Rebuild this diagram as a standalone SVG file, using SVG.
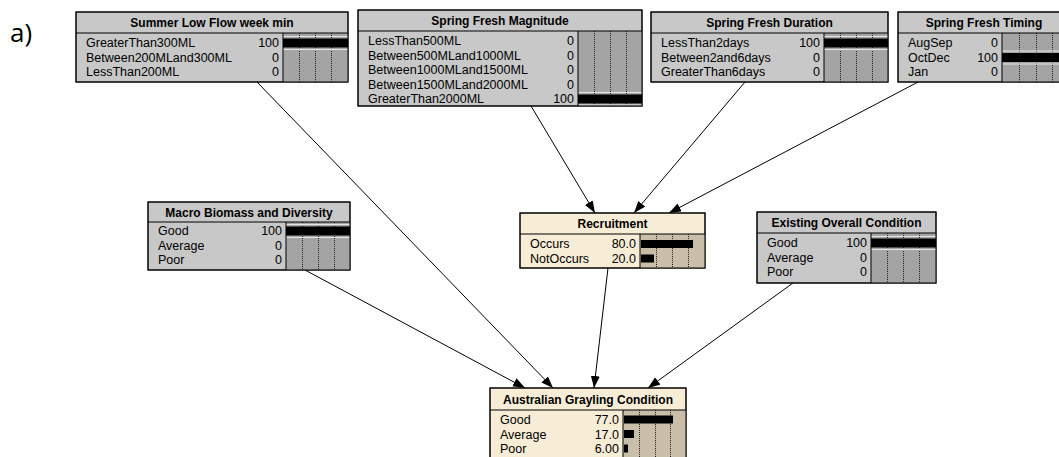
<svg xmlns="http://www.w3.org/2000/svg" width="1059" height="457" viewBox="0 0 1059 457">
  <style>
    .box { stroke: #000; stroke-width: 1; }
    .grey { fill: #c8c8c8; }
    .cream { fill: #f7edd6; }
    .bararea-grey { fill: #a4a4a4; }
    .bararea-cream { fill: #c9bfa9; }
    .sep { stroke: #000; stroke-width: 1; }
    .grid { stroke: #222; stroke-width: 1; stroke-dasharray: 1 1; }
    .hl { stroke: #e6e6e6; stroke-width: 1; }
    .bar { fill: #000; }
    .title { font-family: "Liberation Sans", Arial, sans-serif; font-size: 12px; font-weight: bold; text-anchor: middle; fill: #000; }
    .lab { font-family: "Liberation Sans", Arial, sans-serif; font-size: 12.5px; fill: #000; }
    .val { font-family: "Liberation Sans", Arial, sans-serif; font-size: 12.5px; fill: #000; text-anchor: end; }
    .link { stroke: #000; stroke-width: 1; fill: none; marker-end: url(#arrow); }
  </style>
  <defs>
    <marker id="arrow" markerUnits="userSpaceOnUse" markerWidth="13" markerHeight="10" refX="12" refY="4.5" orient="auto">
      <path d="M0,0 L12,4.5 L0,9 Z" fill="#000"/>
    </marker>
  </defs>

  <rect width="1059" height="457" fill="#fff"/>

  <text x="10" y="42" font-family="Open Sans, Liberation Sans, sans-serif" font-size="26" fill="#000">a)</text>

  <!-- links between nodes -->
  <g id="links">
    <line class="link" x1="257" y1="82" x2="553" y2="388"/>
    <line class="link" x1="531" y1="106" x2="595" y2="213"/>
    <line class="link" x1="745" y1="82" x2="634" y2="213"/>
    <line class="link" x1="918" y1="82" x2="669" y2="213"/>
    <line class="link" x1="305" y1="270" x2="525" y2="388"/>
    <line class="link" x1="608" y1="268" x2="594" y2="388"/>
    <line class="link" x1="793" y1="283" x2="648" y2="388"/>
  </g>

  <!-- Summer Low Flow week min -->
  <g id="summer-low-flow">
    <rect class="box grey" x="76" y="12" width="272" height="70"/>
    <rect class="bararea-grey" x="283" y="33" width="65" height="49"/>
    <line class="grid" x1="299.5" y1="33" x2="299.5" y2="82"/>
    <line class="grid" x1="315.5" y1="33" x2="315.5" y2="82"/>
    <line class="grid" x1="331.5" y1="33" x2="331.5" y2="82"/>
    <line class="hl" x1="283" y1="36.5" x2="348" y2="36.5"/>
    <line class="hl" x1="283" y1="49.5" x2="348" y2="49.5"/>
    <rect class="bar" x="283" y="38.5" width="65" height="9"/>
    <line class="sep" x1="283" y1="33" x2="283" y2="82"/>
    <line class="sep" x1="76" y1="33" x2="348" y2="33"/>
    <rect class="box" fill="none" x="76" y="12" width="272" height="70"/>
    <text class="title" x="212" y="27">Summer Low Flow week min</text>
    <text class="lab" x="86" y="47">GreaterThan300ML</text>
    <text class="val" x="279" y="47">100</text>
    <text class="lab" x="86" y="61.5">Between200MLand300ML</text>
    <text class="val" x="279" y="61.5">0</text>
    <text class="lab" x="86" y="76">LessThan200ML</text>
    <text class="val" x="279" y="76">0</text>
  </g>

  <!-- Spring Fresh Magnitude -->
  <g id="spring-fresh-magnitude">
    <rect class="box grey" x="358" y="10" width="284" height="96"/>
    <rect class="bararea-grey" x="578" y="31" width="64" height="75"/>
    <line class="grid" x1="594.5" y1="31" x2="594.5" y2="106"/>
    <line class="grid" x1="610.5" y1="31" x2="610.5" y2="106"/>
    <line class="grid" x1="626.5" y1="31" x2="626.5" y2="106"/>
    <line class="hl" x1="578" y1="92.5" x2="642" y2="92.5"/>
    <line class="hl" x1="578" y1="105" x2="642" y2="105"/>
    <rect class="bar" x="578" y="94.5" width="64" height="9"/>
    <line class="sep" x1="578" y1="31" x2="578" y2="106"/>
    <line class="sep" x1="358" y1="31" x2="642" y2="31"/>
    <rect class="box" fill="none" x="358" y="10" width="284" height="96"/>
    <text class="title" x="500" y="25">Spring Fresh Magnitude</text>
    <text class="lab" x="368" y="45">LessThan500ML</text>
    <text class="val" x="574" y="45">0</text>
    <text class="lab" x="368" y="59.5">Between500MLand1000ML</text>
    <text class="val" x="574" y="59.5">0</text>
    <text class="lab" x="368" y="74">Between1000MLand1500ML</text>
    <text class="val" x="574" y="74">0</text>
    <text class="lab" x="368" y="88.5">Between1500MLand2000ML</text>
    <text class="val" x="574" y="88.5">0</text>
    <text class="lab" x="368" y="103">GreaterThan2000ML</text>
    <text class="val" x="574" y="103">100</text>
  </g>

  <!-- Spring Fresh Duration -->
  <g id="spring-fresh-duration">
    <rect class="box grey" x="651" y="12" width="237" height="70"/>
    <rect class="bararea-grey" x="824" y="33" width="64" height="49"/>
    <line class="grid" x1="840.5" y1="33" x2="840.5" y2="82"/>
    <line class="grid" x1="856.5" y1="33" x2="856.5" y2="82"/>
    <line class="grid" x1="872.5" y1="33" x2="872.5" y2="82"/>
    <line class="hl" x1="824" y1="36.5" x2="888" y2="36.5"/>
    <line class="hl" x1="824" y1="49.5" x2="888" y2="49.5"/>
    <rect class="bar" x="824" y="38.5" width="64" height="9"/>
    <line class="sep" x1="824" y1="33" x2="824" y2="82"/>
    <line class="sep" x1="651" y1="33" x2="888" y2="33"/>
    <rect class="box" fill="none" x="651" y="12" width="237" height="70"/>
    <text class="title" x="769.5" y="27">Spring Fresh Duration</text>
    <text class="lab" x="661" y="47">LessThan2days</text>
    <text class="val" x="820" y="47">100</text>
    <text class="lab" x="661" y="61.5">Between2and6days</text>
    <text class="val" x="820" y="61.5">0</text>
    <text class="lab" x="661" y="76">GreaterThan6days</text>
    <text class="val" x="820" y="76">0</text>
  </g>

  <!-- Spring Fresh Timing -->
  <g id="spring-fresh-timing">
    <rect class="box grey" x="898" y="12" width="172" height="70"/>
    <rect class="bararea-grey" x="1002" y="33" width="68" height="49"/>
    <line class="grid" x1="1019.5" y1="33" x2="1019.5" y2="82"/>
    <line class="grid" x1="1036.5" y1="33" x2="1036.5" y2="82"/>
    <line class="grid" x1="1052.5" y1="33" x2="1052.5" y2="82"/>
    <line class="hl" x1="1002" y1="51" x2="1070" y2="51"/>
    <line class="hl" x1="1002" y1="64" x2="1070" y2="64"/>
    <rect class="bar" x="1002" y="53" width="68" height="9"/>
    <line class="sep" x1="1002" y1="33" x2="1002" y2="82"/>
    <line class="sep" x1="898" y1="33" x2="1070" y2="33"/>
    <rect class="box" fill="none" x="898" y="12" width="172" height="70"/>
    <text class="title" x="984" y="27">Spring Fresh Timing</text>
    <text class="lab" x="908" y="47">AugSep</text>
    <text class="val" x="998" y="47">0</text>
    <text class="lab" x="908" y="61.5">OctDec</text>
    <text class="val" x="998" y="61.5">100</text>
    <text class="lab" x="908" y="76">Jan</text>
    <text class="val" x="998" y="76">0</text>
  </g>

  <!-- Macro Biomass and Diversity -->
  <g id="macro-biomass">
    <rect class="box grey" x="148" y="202" width="202" height="68"/>
    <rect class="bararea-grey" x="286" y="222" width="64" height="48"/>
    <line class="grid" x1="302.5" y1="222" x2="302.5" y2="270"/>
    <line class="grid" x1="318.5" y1="222" x2="318.5" y2="270"/>
    <line class="grid" x1="334.5" y1="222" x2="334.5" y2="270"/>
    <line class="hl" x1="286" y1="224.5" x2="350" y2="224.5"/>
    <line class="hl" x1="286" y1="237.5" x2="350" y2="237.5"/>
    <rect class="bar" x="286" y="226.5" width="64" height="9"/>
    <line class="sep" x1="286" y1="222" x2="286" y2="270"/>
    <line class="sep" x1="148" y1="222" x2="350" y2="222"/>
    <rect class="box" fill="none" x="148" y="202" width="202" height="68"/>
    <text class="title" x="249" y="216.5">Macro Biomass and Diversity</text>
    <text class="lab" x="158" y="235">Good</text>
    <text class="val" x="282" y="235">100</text>
    <text class="lab" x="158" y="249.5">Average</text>
    <text class="val" x="282" y="249.5">0</text>
    <text class="lab" x="158" y="264">Poor</text>
    <text class="val" x="282" y="264">0</text>
  </g>

  <!-- Recruitment -->
  <g id="recruitment">
    <rect class="box cream" x="520" y="213" width="185" height="55"/>
    <rect class="bararea-cream" x="640" y="234" width="65" height="34"/>
    <line class="grid" x1="656.5" y1="234" x2="656.5" y2="268"/>
    <line class="grid" x1="672.5" y1="234" x2="672.5" y2="268"/>
    <line class="grid" x1="688.5" y1="234" x2="688.5" y2="268"/>
    <rect class="bar" x="641" y="240" width="52" height="8"/>
    <rect class="bar" x="641" y="254.5" width="13" height="8"/>
    <line class="sep" x1="640" y1="234" x2="640" y2="268"/>
    <line class="sep" x1="520" y1="234" x2="705" y2="234"/>
    <rect class="box" fill="none" x="520" y="213" width="185" height="55"/>
    <text class="title" x="612.5" y="228">Recruitment</text>
    <text class="lab" x="530" y="248">Occurs</text>
    <text class="val" x="636" y="248">80.0</text>
    <text class="lab" x="530" y="262.5">NotOccurs</text>
    <text class="val" x="636" y="262.5">20.0</text>
  </g>

  <!-- Existing Overall Condition -->
  <g id="existing-condition">
    <rect class="box grey" x="757" y="212" width="179" height="71"/>
    <rect class="bararea-grey" x="871" y="233" width="65" height="50"/>
    <line class="grid" x1="887.5" y1="233" x2="887.5" y2="283"/>
    <line class="grid" x1="903.5" y1="233" x2="903.5" y2="283"/>
    <line class="grid" x1="919.5" y1="233" x2="919.5" y2="283"/>
    <line class="hl" x1="871" y1="236.5" x2="936" y2="236.5"/>
    <line class="hl" x1="871" y1="249.5" x2="936" y2="249.5"/>
    <rect class="bar" x="871" y="238.5" width="65" height="9"/>
    <line class="sep" x1="871" y1="233" x2="871" y2="283"/>
    <line class="sep" x1="757" y1="233" x2="936" y2="233"/>
    <rect class="box" fill="none" x="757" y="212" width="179" height="71"/>
    <text class="title" x="846.5" y="227">Existing Overall Condition</text>
    <text class="lab" x="767" y="247">Good</text>
    <text class="val" x="867" y="247">100</text>
    <text class="lab" x="767" y="261.5">Average</text>
    <text class="val" x="867" y="261.5">0</text>
    <text class="lab" x="767" y="276">Poor</text>
    <text class="val" x="867" y="276">0</text>
  </g>

  <!-- Australian Grayling Condition -->
  <g id="grayling-condition">
    <rect class="box cream" x="490" y="388" width="196" height="80"/>
    <rect class="bararea-cream" x="623" y="410" width="63" height="58"/>
    <line class="grid" x1="639.5" y1="410" x2="639.5" y2="468"/>
    <line class="grid" x1="655.5" y1="410" x2="655.5" y2="468"/>
    <line class="grid" x1="670.5" y1="410" x2="670.5" y2="468"/>
    <rect class="bar" x="624" y="415.5" width="49" height="8"/>
    <rect class="bar" x="624" y="430" width="10" height="8"/>
    <rect class="bar" x="624" y="444.5" width="4" height="8"/>
    <line class="sep" x1="623" y1="410" x2="623" y2="468"/>
    <line class="sep" x1="490" y1="410" x2="686" y2="410"/>
    <rect class="box" fill="none" x="490" y="388" width="196" height="80"/>
    <text class="title" x="588" y="403.5">Australian Grayling Condition</text>
    <text class="lab" x="500" y="424">Good</text>
    <text class="val" x="619" y="424">77.0</text>
    <text class="lab" x="500" y="438.5">Average</text>
    <text class="val" x="619" y="438.5">17.0</text>
    <text class="lab" x="500" y="453">Poor</text>
    <text class="val" x="619" y="453">6.00</text>
  </g>
</svg>
